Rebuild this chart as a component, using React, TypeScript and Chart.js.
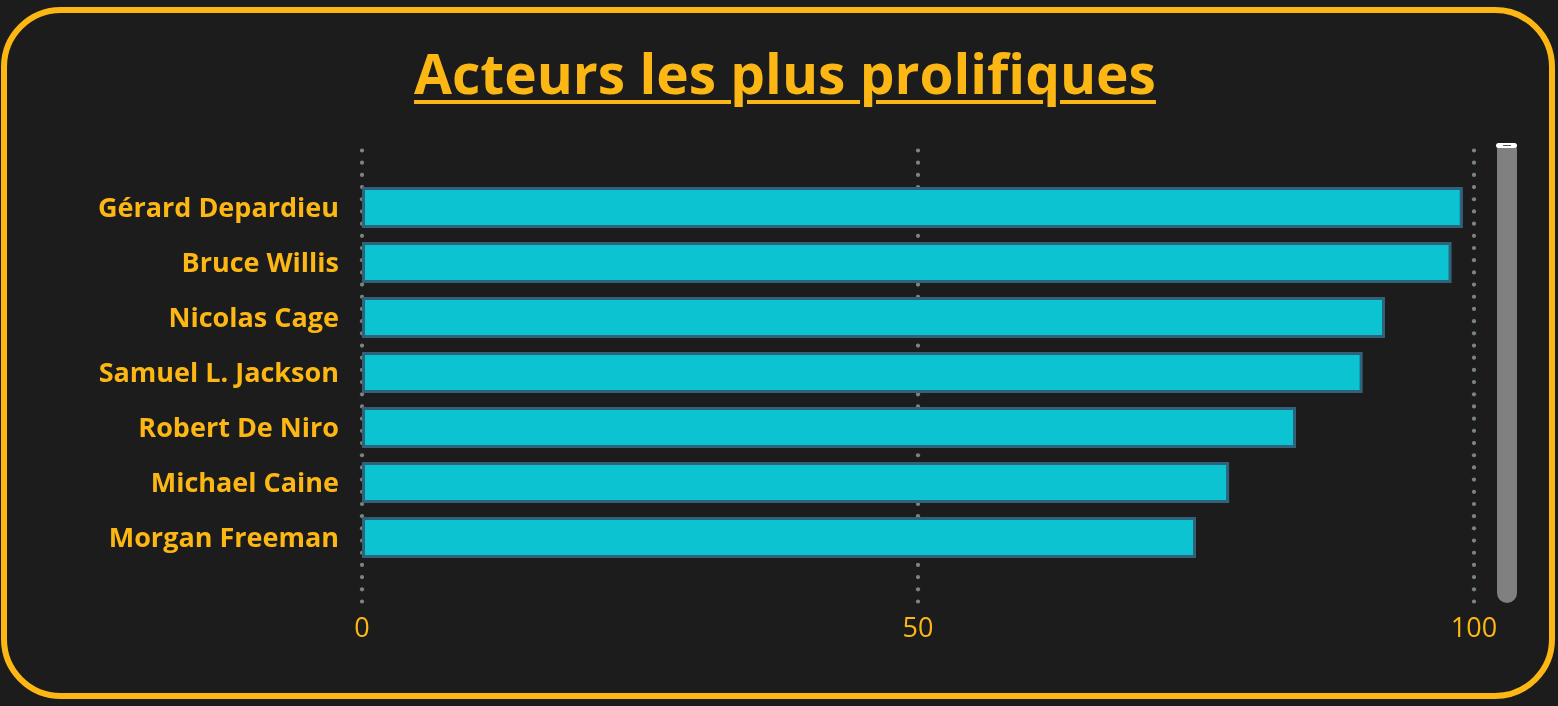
import React, { useEffect, useRef } from "react";
import { Chart, registerables } from "chart.js";

Chart.register(...registerables);

const actors = [
  "Gérard Depardieu",
  "Bruce Willis",
  "Nicolas Cage",
  "Samuel L. Jackson",
  "Robert De Niro",
  "Michael Caine",
  "Morgan Freeman",
];
const filmCounts = [99, 98, 92, 90, 84, 78, 75];
const xTicks = [0, 50, 100];

const ORANGE = "#fdb714";
const BG = "#1c1c1c";
const FONT = "'Open Sans', 'Noto Sans', sans-serif";

const dotGrid = {
  id: "dotGrid",
  beforeDatasetsDraw(chart: any) {
    const { ctx, chartArea, scales } = chart;
    const x = scales.x;
    const y0 = chartArea.top - 29.5;
    const y1 = chartArea.bottom + 36.5;
    const n = 37;
    ctx.save();
    ctx.fillStyle = "#7c8680";
    xTicks.forEach((v) => {
      const px = x.getPixelForValue(v);
      for (let i = 0; i <= n; i++) {
        const py = y0 + ((y1 - y0) * i) / n;
        ctx.beginPath();
        ctx.arc(px, py, 2.1, 0, Math.PI * 2);
        ctx.fill();
      }
    });
    ctx.restore();
  },
};

export default function App() {
  const ref = useRef<HTMLCanvasElement | null>(null);

  useEffect(() => {
    document.body.style.margin = "0";
    document.body.style.background = BG;
    const canvas = ref.current!;
    const chart = new Chart(canvas, {
      type: "bar",
      data: {
        labels: actors,
        datasets: [
          {
            data: filmCounts,
            backgroundColor: "#0bc3d1",
            borderColor: "#30627b",
            borderWidth: 3,
            borderSkipped: false,
            barPercentage: 0.745,
            categoryPercentage: 1,
          },
        ],
      },
      options: {
        indexAxis: "y",
        animation: false,
        responsive: false,
        maintainAspectRatio: false,
        layout: { padding: { top: 180, right: 84, left: 0, bottom: 0 } },
        plugins: {
          legend: { display: false },
          tooltip: { enabled: false },
          title: { display: false },
        },
        scales: {
          x: {
            min: 0,
            max: 100,
            afterFit: (s: any) => {
              s.height = 141;
            },
            afterBuildTicks: (s: any) => {
              s.ticks = xTicks.map((v) => ({ value: v }));
            },
            grid: { display: false, drawTicks: false },
            border: { display: false },
            ticks: {
              color: ORANGE,
              padding: 48,
              font: { family: FONT, size: 27, weight: "normal" },
            },
          },
          y: {
            afterFit: (s: any) => {
              s.width = 362;
            },
            grid: { display: false, drawTicks: false },
            border: { display: false },
            ticks: {
              color: ORANGE,
              padding: 23,
              labelOffset: 2,
              font: { family: FONT, size: 27, weight: "bold" },
            },
          },
        },
      },
      plugins: [dotGrid],
    });
    return () => chart.destroy();
  }, []);

  return (
    <div
      style={{
        position: "relative",
        width: 1558,
        height: 706,
        background: BG,
        overflow: "hidden",
      }}
    >
      <div
        style={{
          position: "absolute",
          left: 1,
          top: 7,
          width: 1554,
          height: 692,
          boxSizing: "border-box",
          border: `6px solid ${ORANGE}`,
          borderRadius: 60,
        }}
      />
      <div
        style={{
          position: "absolute",
          left: 0,
          top: 38,
          width: 1570,
          textAlign: "center",
          fontFamily: FONT,
          fontWeight: 700,
          fontSize: 55,
          lineHeight: "70px",
          color: ORANGE,
          textDecoration: "underline",
          textDecorationThickness: 4,
          textUnderlineOffset: 6,
        }}
      >
        Acteurs les plus prolifiques
      </div>
      <canvas
        ref={ref}
        width={1558}
        height={706}
        style={{ position: "absolute", left: 0, top: 0, width: 1558, height: 706 }}
      />
      <div
        style={{
          position: "absolute",
          left: 1497,
          top: 147,
          width: 20,
          height: 456,
          background: "#808080",
          borderRadius: "2px 2px 10px 10px",
        }}
      />
      <div
        style={{
          position: "absolute",
          left: 1496,
          top: 143,
          width: 21,
          height: 5,
          background: "#ffffff",
          borderRadius: 3,
        }}
      >
        <div
          style={{
            position: "absolute",
            left: 7,
            top: 2,
            width: 8,
            height: 1,
            background: "#555555",
          }}
        />
      </div>
    </div>
  );
}
